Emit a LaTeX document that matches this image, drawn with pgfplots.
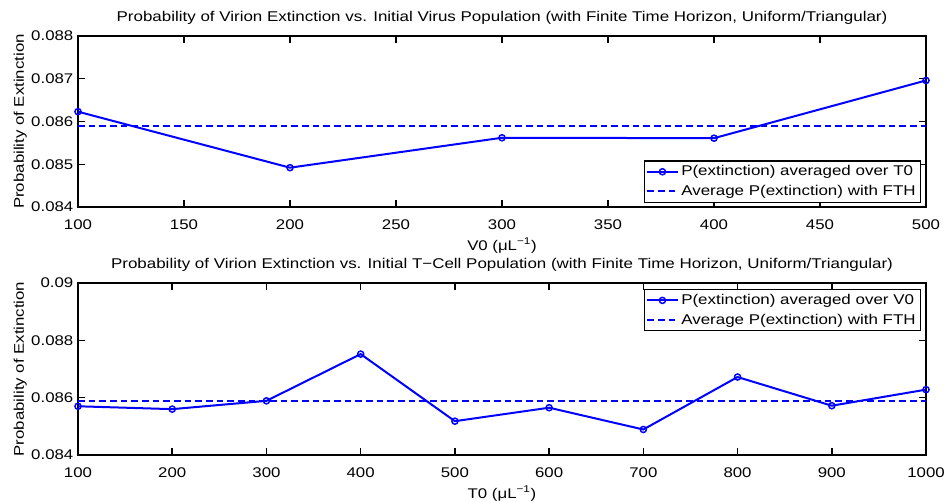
\documentclass[border=0pt]{standalone}
\usepackage{fontspec}
\setmainfont{Liberation Sans}[FakeStretch=1.2]
\usepackage{pgfplots}
\pgfplotsset{compat=1.18}
\definecolor{mblue}{rgb}{0,0,1}
\begin{document}
\begin{tikzpicture}
\pgfplotsset{
 myax/.style={
  scale only axis, width=636pt,
  axis line style={line width=1.2pt},
  every tick/.style={black, line width=1.1pt},
  tick align=inside, major tick length=5pt,
  font=\fontsize{10.5}{12}\selectfont,
  /pgf/number format/assume math mode=true,
  scaled y ticks=false, scaled x ticks=false,
  yticklabel style={/pgf/number format/fixed, /pgf/number format/precision=3},
  xticklabel style={/pgf/number format/1000 sep={}, yshift=-6pt},
  ylabel style={font=\fontsize{10.5}{12}\selectfont, yshift=-3.5pt},
  xlabel style={yshift=0.5pt},
  title style={font=\fontsize{10.6}{12}\selectfont, at={(axis description cs:0.5,1)}, anchor=south, yshift=-1pt},
  legend cell align=left,
  legend style={font=\fontsize{10.6}{12}\selectfont, draw=black, line width=0.9pt, inner sep=1.5pt, row sep=1.5pt,
    nodes={inner sep=2pt}},
  legend image code/.code={\draw[mark repeat=2,mark phase=2] plot coordinates {(0cm,0cm) (0.4cm,0cm) (0.8cm,0cm)};},
  ylabel={Probability of Extinction},
 },
 vdat/.style={color=mblue, line width=1.5pt, mark=o, mark size=2.3pt, mark options={solid, line width=1.1pt}},
 vavg/.style={color=mblue, line width=1.5pt, dash pattern=on 5pt off 3pt},
}
\path[use as bounding box] (-58.5pt,-34.5pt) rectangle (650.25pt,341.25pt);
\begin{axis}[myax, at={(0pt,186pt)}, anchor=south west, height=128.25pt,
  xmin=100, xmax=500, ymin=0.084, ymax=0.088,
  xtick={100,150,...,500}, ytick={0.084,0.085,0.086,0.087,0.088},
  title={Probability of Virion Extinction vs. Initial Virus Population (with Finite Time Horizon, Uniform/Triangular)},
  xlabel={V0 (μL\textsuperscript{−1})},
  legend style={at={(axis description cs:0.994,0.025)}, anchor=south east}]
\addplot[vdat] coordinates {(100,0.08623) (200,0.08492) (300,0.08562) (400,0.08561) (500,0.08696)};
\addlegendentry{P(extinction) averaged over T0}
\addplot[vavg] coordinates {(100,0.08589) (500,0.08589)};
\addlegendentry{Average P(extinction) with FTH}
\end{axis}
\begin{axis}[myax, at={(0pt,0pt)}, anchor=south west, height=129pt,
  xmin=100, xmax=1000, ymin=0.084, ymax=0.09,
  xtick={100,200,...,1000}, ytick={0.084,0.086,0.088,0.09},
  title={Probability of Virion Extinction vs. Initial T−Cell Population (with Finite Time Horizon, Uniform/Triangular)},
  xlabel={T0 (μL\textsuperscript{−1})},
  legend style={at={(axis description cs:0.994,0.965)}, anchor=north east}]
\addplot[vdat] coordinates {(100,0.08570) (200,0.08560) (300,0.08589) (400,0.08752) (500,0.08518) (600,0.08565) (700,0.08489) (800,0.08672) (900,0.08572) (1000,0.08628)};
\addlegendentry{P(extinction) averaged over V0}
\addplot[vavg] coordinates {(100,0.08589) (1000,0.08589)};
\addlegendentry{Average P(extinction) with FTH}
\end{axis}
\end{tikzpicture}
\end{document}
